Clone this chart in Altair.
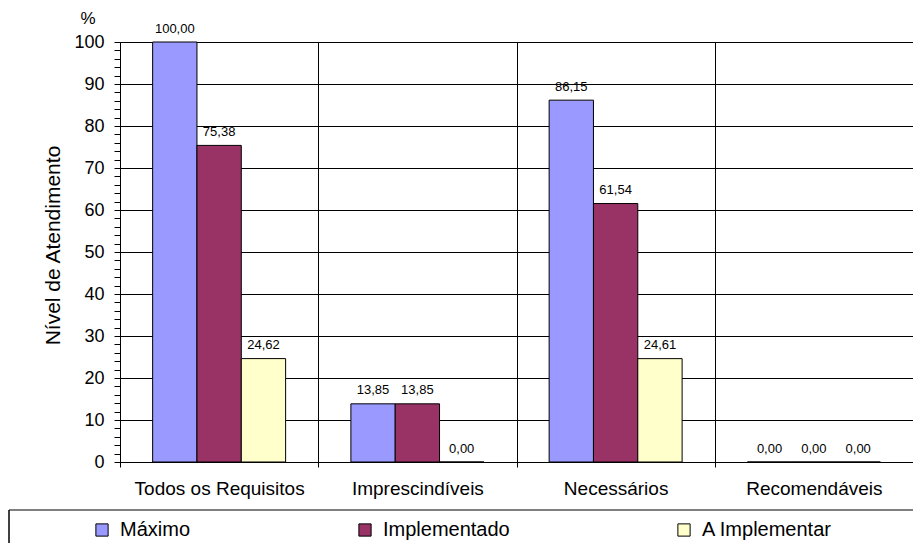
import altair as alt
import pandas as pd

# Requirement groups and series
categorias = ["Todos os Requisitos", "Imprescindíveis", "Necessários", "Recomendáveis"]
series = ["Máximo", "Implementado", "A Implementar"]

maximo = [100.00, 13.85, 86.15, 0.00]
implementado = [75.38, 13.85, 61.54, 0.00]
a_implementar = [24.62, 0.00, 24.61, 0.00]

cores = ["#9999FF", "#993366", "#FFFFCC"]

# Value axis: a tick every 2 points, labelled and gridded every 10
ticks_y = list(range(0, 101, 2))

rows = []
for i, cat in enumerate(categorias):
    for nome, vals in zip(series, [maximo, implementado, a_implementar]):
        v = vals[i]
        rows.append({
            "categoria": cat,
            "serie": nome,
            "valor": v,
            "rotulo": f"{v:.2f}".replace(".", ","),
        })
df = pd.DataFrame(rows)

FONT = "Liberation Sans"
W, H = 793, 420

x_enc = alt.X(
    "categoria:N",
    sort=categorias,
    title=None,
    scale=alt.Scale(paddingInner=0, paddingOuter=0),
    axis=alt.Axis(
        tickBand="extent",
        grid=True,
        gridColor="#000000",
        gridWidth=1,
        domainColor="#000000",
        tickColor="#000000",
        tickSize=5,
        labelAngle=0,
        labelFontSize=19,
        labelColor="#000000",
        labelPadding=12,
    ),
)
xoff_enc = alt.XOffset(
    "serie:N",
    sort=series,
    scale=alt.Scale(paddingInner=0, paddingOuter=0.736),
)
y_enc = alt.Y(
    "valor:Q",
    scale=alt.Scale(domain=[0, 100], nice=False),
    axis=alt.Axis(
        values=ticks_y,
        tickCount=len(ticks_y),
        labelExpr="datum.value % 10 === 0 ? datum.label : ''",
        labelOverlap=False,
        grid=True,
        gridColor="#000000",
        gridWidth=1,
        gridOpacity={"condition": {"test": "datum.value % 10 === 0", "value": 1}, "value": 0},
        domainColor="#000000",
        tickColor="#000000",
        tickSize=6,
        labelFontSize=18,
        labelColor="#000000",
        labelPadding=10,
        title="Nível de Atendimento",
        titleFontSize=21,
        titleFontWeight="normal",
        titleColor="#000000",
        titleX=-61,
        titleY=203,
        titleAngle=-90,
        titleAlign="center",
        titleBaseline="alphabetic",
    ),
)

bars = alt.Chart(df).mark_bar(stroke="#000000", strokeWidth=1).encode(
    x=x_enc,
    xOffset=xoff_enc,
    y=y_enc,
    color=alt.Color(
        "serie:N",
        sort=series,
        scale=alt.Scale(domain=series, range=cores),
        legend=alt.Legend(
            title=None,
            orient="none",
            legendX=-28,
            legendY=478,
            direction="horizontal",
            columns=3,
            columnPadding=164,
            padding=0,
            symbolType="square",
            symbolSize=150,
            symbolStrokeColor="#000000",
            symbolStrokeWidth=1,
            symbolOpacity=1,
            labelFontSize=20,
            labelColor="#000000",
            labelOffset=8,
        ),
    ),
)

rotulos = alt.Chart(df).mark_text(
    fontSize=13, baseline="alphabetic", dy=-9.5, color="#000000"
).encode(
    x=alt.X("categoria:N", sort=categorias),
    xOffset=alt.XOffset("serie:N", sort=series),
    y="valor:Q",
    text="rotulo:N",
)

# Unit marker above the value axis
unidade = alt.Chart(pd.DataFrame({"t": ["%"]})).mark_text(
    fontSize=17, baseline="middle", align="center", color="#000000"
).encode(x=alt.value(-32), y=alt.value(-23), text="t:N")

# Frame around the legend strip
moldura_topo = alt.Chart(pd.DataFrame({"t": [0]})).mark_rule(
    color="#808080", strokeWidth=2
).encode(x=alt.value(-111), x2=alt.value(W + 2), y=alt.value(468))
moldura_esq = alt.Chart(pd.DataFrame({"t": [0]})).mark_rule(
    color="#000000", strokeWidth=1.5
).encode(x=alt.value(-111), y=alt.value(468), y2=alt.value(H + 90))

chart = (
    alt.layer(bars, rotulos, unidade, moldura_topo, moldura_esq)
    .properties(
        width=W,
        height=H,
        autosize=alt.AutoSizeParams(type="none"),
        padding={"left": 120, "top": 42, "right": 0, "bottom": 81},
        background="#ffffff",
    )
    .configure(font=FONT)
    .configure_view(stroke=None)
)

chart.save("out.html", embed_options={"renderer": "svg", "actions": False})
